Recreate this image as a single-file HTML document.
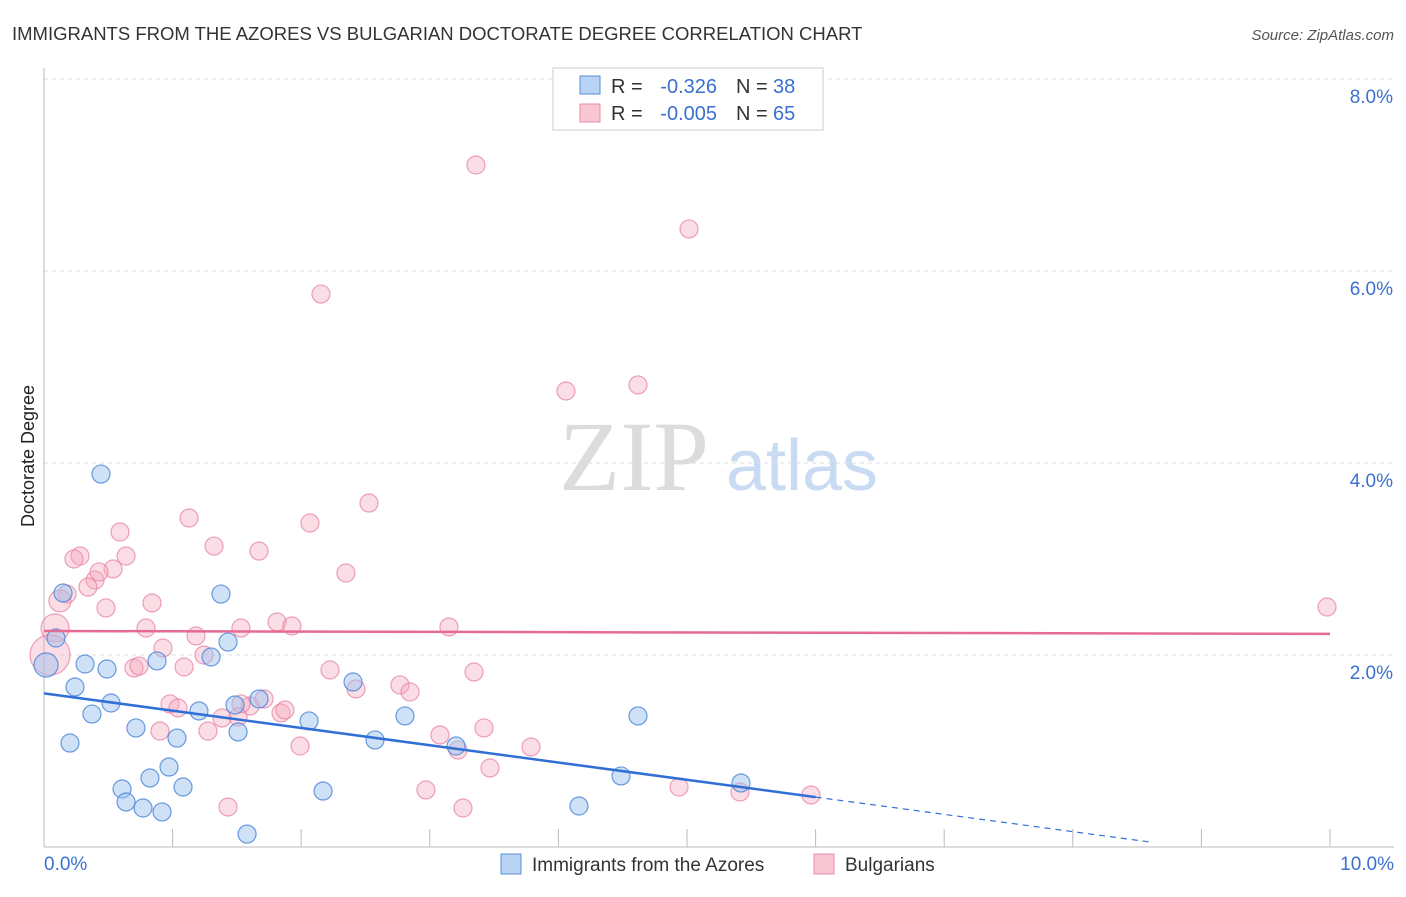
<!DOCTYPE html>
<html><head><meta charset="utf-8"><style>
body{margin:0;background:#fff;font-family:"Liberation Sans",sans-serif}
</style></head><body>
<svg width="1406" height="892" viewBox="0 0 1406 892" id="chart" font-family="Liberation Sans, sans-serif">
<text x="12" y="40" font-size="18.5" fill="#333">IMMIGRANTS FROM THE AZORES VS BULGARIAN DOCTORATE DEGREE CORRELATION CHART</text>
<text x="1394" y="40" font-size="15" fill="#555" font-style="italic" text-anchor="end">Source: ZipAtlas.com</text>
<text x="0" y="0" transform="translate(34,456) rotate(-90)" font-size="18" fill="#222" text-anchor="middle">Doctorate Degree</text>
<g>
<text x="634" y="490" font-size="100" style="font-family:'Liberation Serif',serif" fill="#dcdcdc" text-anchor="middle">ZIP</text>
<text x="802" y="490" font-size="72" fill="#c9dbf3" text-anchor="middle">atlas</text>
</g>
<g id="grid"></g><g id="axes"></g><g id="marks"></g>
<g>
<rect x="553" y="68" width="270" height="62" fill="#fff" stroke="#ccc"/>
<rect x="580" y="76" width="20" height="18" fill="#b9d3f5" stroke="#5b8fd6"/>
<text x="611" y="93" font-size="20" fill="#333">R =</text>
<text x="717" y="93" font-size="20" fill="#3a70d0" text-anchor="end">-0.326</text>
<text x="736" y="93" font-size="20" fill="#333">N =</text>
<text x="773" y="93" font-size="20" fill="#3a70d0">38</text>
<rect x="580" y="104" width="20" height="18" fill="#f9c6d4" stroke="#e98aa6"/>
<text x="611" y="120" font-size="20" fill="#333">R =</text>
<text x="717" y="120" font-size="20" fill="#3a70d0" text-anchor="end">-0.005</text>
<text x="736" y="120" font-size="20" fill="#333">N =</text>
<text x="773" y="120" font-size="20" fill="#3a70d0">65</text>
</g>
<g>
<rect x="501" y="854" width="20" height="20" fill="#b9d3f5" stroke="#5b8fd6"/>
<text x="532" y="871" font-size="19" fill="#333">Immigrants from the Azores</text>
<rect x="814" y="854" width="20" height="20" fill="#f9c6d4" stroke="#e98aa6"/>
<text x="845" y="871" font-size="19" fill="#333">Bulgarians</text>
</g>
</svg>
<script>
const yTicks=[2,4,6,8];
const yTickLabels=["2.0%","4.0%","6.0%","8.0%"];
const xEndLabels=["0.0%","10.0%"];
const blueX=[101,63,56,46,85,107,75,111,92,70,136,157,177,122,126,143,162,150,169,183,221,228,211,199,235,238,259,247,309,323,353,375,405,456,579,621,638,741].map(p=>+((p-44)/128.6).toFixed(3));
const blueY=[474,593,638,665,664,669,687,703,714,743,728,661,738,789,802,808,812,778,767,787,594,642,657,711,705,732,699,834,721,791,682,740,716,746,806,776,716,783].map(p=>+((847-p)/96).toFixed(3));
const blueR=[9,9,9,12,9,9,9,9,9,9,9,9,9,9,9,9,9,9,9,9,9,9,9,9,9,9,9,9,9,9,9,9,9,9,9,9,9,9];
const pinkX=[476,689,321,566,638,369,310,189,120,214,259,126,80,74,346,113,95,99,88,67,60,106,152,55,146,277,292,241,449,196,163,50,204,184,134,139,330,474,400,410,356,170,178,264,250,241,222,238,281,285,208,160,300,440,458,484,531,490,426,228,463,679,740,811,1327].map(p=>+((p-44)/128.6).toFixed(3));
const pinkY=[165,229,294,391,385,503,523,518,532,546,551,556,556,559,573,569,580,572,587,594,601,608,603,628,628,622,626,628,627,636,648,655,655,667,668,666,670,672,685,692,689,704,708,699,706,704,718,717,713,710,731,731,746,735,750,728,747,768,790,807,808,787,792,795,607].map(p=>+((847-p)/96).toFixed(3));
const pinkR=pinkX.map((_,i)=>i===31?20:i===23?14:i===20?11:9);
const blueLine=[1.6,-0.18];
const pinkLine=[2.25,-0.003];
const X=v=>44+v*128.6, Y=v=>847-v*96;
const NS="http://www.w3.org/2000/svg";
function mk(t,a,p){const e=document.createElementNS(NS,t);for(const k in a)e.setAttribute(k,a[k]);p.appendChild(e);return e;}
const grid=document.getElementById('grid'),axes=document.getElementById('axes'),marks=document.getElementById('marks');
yTicks.forEach((t,i)=>{
 const l=mk('line',{x1:44,x2:1394,y1:Y(t),y2:Y(t),stroke:'#ddd','stroke-dasharray':'4,4'},grid);
 
 
 const tx=mk('text',{x:1393,y:Y(t)+24,'font-size':19,fill:'#3a70d0','text-anchor':'end'},axes);tx.textContent=yTickLabels[i];
 
 
});
mk('line',{x1:44,x2:44,y1:68,y2:847,stroke:'#bbb'},axes);
mk('line',{x1:44,x2:1394,y1:847,y2:847,stroke:'#bbb'},axes);
for(let i=1;i<=10;i++){const t=mk('line',{x1:X(i),x2:X(i),y1:829,y2:847,stroke:'#bbb'},axes);
 
 }
const a=mk('text',{x:44,y:870,'font-size':19,fill:'#3a70d0'},axes);a.textContent=xEndLabels[0];


const b=mk('text',{x:1394,y:870,'font-size':19,fill:'#3a70d0','text-anchor':'end'},axes);b.textContent=xEndLabels[1];


pinkX.forEach((x,i)=>{const c=mk('circle',{cx:X(x),cy:Y(pinkY[i]),r:pinkR[i],fill:'rgba(246,170,192,0.4)',stroke:'rgba(232,130,160,0.75)','stroke-width':1.2},marks);
 
 });
blueX.forEach((x,i)=>{const c=mk('circle',{cx:X(x),cy:Y(blueY[i]),r:blueR[i],fill:'rgba(160,196,240,0.5)',stroke:'rgba(70,130,215,0.8)','stroke-width':1.2},marks);
 
 });
const bl=v=>blueLine[0]+blueLine[1]*v, pl=v=>pinkLine[0]+pinkLine[1]*v;
const l1=mk('line',{x1:X(0),y1:Y(bl(0)),x2:X(6),y2:Y(bl(6)),stroke:'#2f6fd6','stroke-width':2.5},marks);


const l2=mk('line',{x1:X(6),y1:Y(bl(6)),x2:X(8.6),y2:Y(bl(8.6)),stroke:'#2f6fd6','stroke-width':1.2,'stroke-dasharray':'6,5'},marks);


const l3=mk('line',{x1:X(0),y1:Y(pl(0)),x2:X(10),y2:Y(pl(10)),stroke:'#e56b93','stroke-width':2.5},marks);


</script>
</body></html>
